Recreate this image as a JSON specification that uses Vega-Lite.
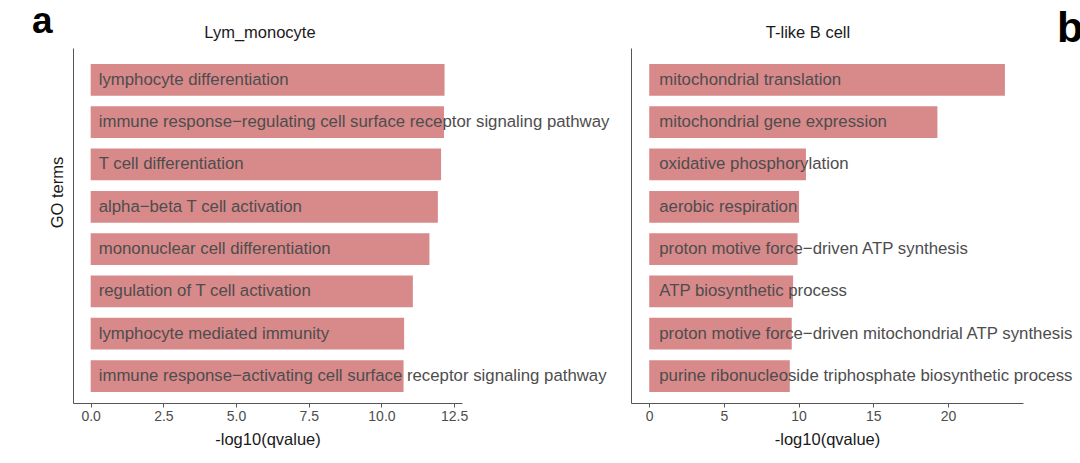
{
  "$schema": "https://vega.github.io/schema/vega-lite/v6.json",
  "background": "white",
  "padding": {"left": 32, "top": 3, "right": 0, "bottom": 0},
  "bounds": "flush",
  "spacing": 169,
  "config": {
    "view": {"stroke": null},
    "font": "Liberation Sans",
    "title": {"color": "#1a1a1a", "fontWeight": "normal", "font": "Liberation Sans"},
    "axis": {"grid": false, "labelFont": "Liberation Sans", "titleFont": "Liberation Sans", "domainColor": "#555555", "tickColor": "#555555", "labelColor": "#4D4D4D", "titleColor": "#1a1a1a", "titleFontWeight": "normal"}
  },
  "hconcat": [
    {
      "width": 389,
      "height": 355,
      "title": {"text": "Lym_monocyte", "anchor": "middle", "frame": "group", "dx": -7.5, "fontSize": 16.5, "baseline": "alphabetic", "offset": -6.5},
      "data": {"values": [
        {"term": "lymphocyte differentiation", "value": 12.17},
        {"term": "immune response−regulating cell surface receptor signaling pathway", "value": 12.15},
        {"term": "T cell differentiation", "value": 12.05},
        {"term": "alpha−beta T cell activation", "value": 11.94},
        {"term": "mononuclear cell differentiation", "value": 11.65},
        {"term": "regulation of T cell activation", "value": 11.08},
        {"term": "lymphocyte mediated immunity", "value": 10.78},
        {"term": "immune response−activating cell surface receptor signaling pathway", "value": 10.76}
      ]},
      "encoding": {
        "y": {
          "field": "term", "type": "nominal",
          "sort": {"field": "value", "op": "max", "order": "descending"},
          "scale": {"paddingInner": 0.25, "paddingOuter": 0.32, "align": 0.59},
          "axis": {"title": "GO terms", "labels": false, "ticks": false, "titleFontSize": 16.5, "titlePadding": 8, "titleY": 144}
        }
      },
      "layer": [
        {
          "mark": {"type": "bar", "color": "#D8898A"},
          "encoding": {
            "x": {
              "field": "value", "type": "quantitative",
              "scale": {"domain": [-0.608, 12.77], "nice": false, "zero": false},
              "axis": {"title": "-log10(qvalue)", "values": [0, 2.5, 5, 7.5, 10, 12.5], "format": ".1f", "tickSize": 4, "labelFontSize": 14, "labelPadding": 2, "titleFontSize": 16.5, "titlePadding": 8}
            }
          }
        },
        {
          "mark": {"type": "text", "align": "left", "baseline": "middle", "dx": 8, "fontSize": 16.8, "color": "#4D4D4D"},
          "encoding": {
            "x": {"datum": 0, "type": "quantitative"},
            "text": {"field": "term"}
          }
        }
      ]
    },
    {
      "width": 392,
      "height": 355,
      "title": {"text": "T-like B cell", "anchor": "middle", "frame": "group", "dx": -19, "fontSize": 16.5, "baseline": "alphabetic", "offset": -6.5},
      "data": {"values": [
        {"term": "mitochondrial translation", "value": 23.81},
        {"term": "mitochondrial gene expression", "value": 19.29},
        {"term": "oxidative phosphorylation", "value": 10.49},
        {"term": "aerobic respiration", "value": 10.03},
        {"term": "proton motive force−driven ATP synthesis", "value": 9.93},
        {"term": "ATP biosynthetic process", "value": 9.63},
        {"term": "proton motive force−driven mitochondrial ATP synthesis", "value": 9.54},
        {"term": "purine ribonucleoside triphosphate biosynthetic process", "value": 9.41}
      ]},
      "encoding": {
        "y": {
          "field": "term", "type": "nominal",
          "sort": {"field": "value", "op": "max", "order": "descending"},
          "scale": {"paddingInner": 0.25, "paddingOuter": 0.32, "align": 0.59},
          "axis": {"title": null, "labels": false, "ticks": false}
        }
      },
      "layer": [
        {
          "mark": {"type": "bar", "color": "#D8898A"},
          "encoding": {
            "x": {
              "field": "value", "type": "quantitative",
              "scale": {"domain": [-1.22, 25.02], "nice": false, "zero": false},
              "axis": {"title": "-log10(qvalue)", "values": [0, 5, 10, 15, 20], "format": "d", "tickSize": 4, "labelFontSize": 14, "labelPadding": 2, "titleFontSize": 16.5, "titlePadding": 8}
            }
          }
        },
        {
          "mark": {"type": "text", "align": "left", "baseline": "middle", "dx": 10, "fontSize": 16.8, "color": "#4D4D4D"},
          "encoding": {
            "x": {"datum": 0, "type": "quantitative"},
            "text": {"field": "term"}
          }
        }
      ]
    },
    {
      "width": 1,
      "height": 1,
      "title": {"text": "b", "anchor": "start", "frame": "group", "fontSize": 43, "fontWeight": "bold", "color": "#000000", "baseline": "alphabetic", "offset": -37, "dx": -135},
      "data": {"values": []},
      "mark": {"type": "text"},
      "encoding": {}
    },
    {
      "width": 1,
      "height": 1,
      "title": {"text": "a", "anchor": "start", "frame": "group", "fontSize": 37, "fontWeight": "bold", "color": "#000000", "baseline": "alphabetic", "offset": -22, "dx": -1330},
      "data": {"values": []},
      "mark": {"type": "text"},
      "encoding": {}
    }
  ]
}
